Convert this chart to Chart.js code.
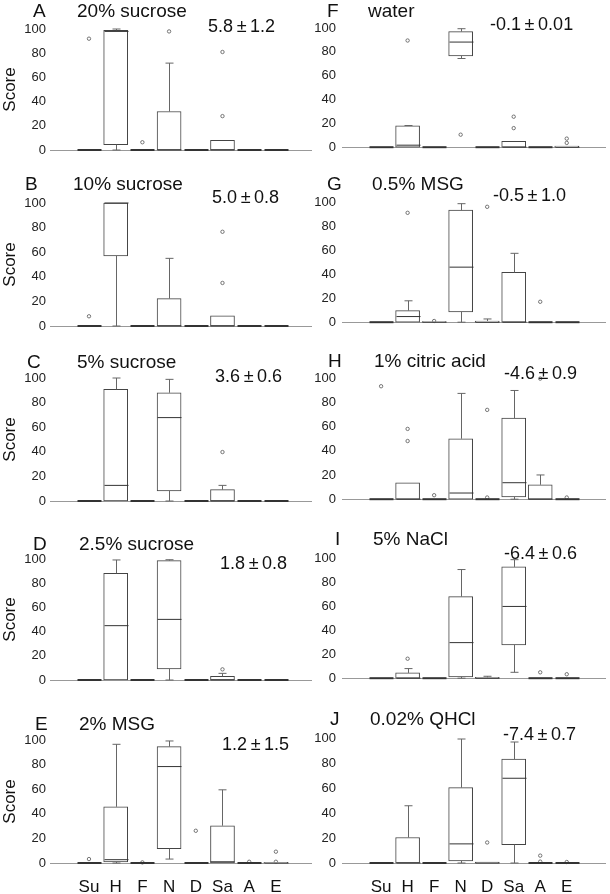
<!DOCTYPE html>
<html>
<head>
<meta charset="utf-8">
<script src="https://cdn.jsdelivr.net/npm/chart.js@4.4.1/dist/chart.umd.min.js"></script>
<style>
  body { margin: 0; background: #fff; width: 610px; height: 894px; position: relative; overflow: hidden; }
  canvas { position: absolute; }
</style>
</head>
<body>
<script>
// taste categories on the x axis
const categories = ['Su', 'H', 'F', 'N', 'D', 'Sa', 'A', 'E'];
const yTicks = [0, 20, 40, 60, 80, 100];

const letters = ['A', 'B', 'C', 'D', 'E', 'F', 'G', 'H', 'I', 'J'];
const names = ['20% sucrose', '10% sucrose', '5% sucrose', '2.5% sucrose', '2% MSG',
               'water', '0.5% MSG', '1% citric acid', '5% NaCl', '0.02% QHCl'];
const stats = ['5.8\u2009\u00b1\u20091.2', '5.0\u2009\u00b1\u20090.8', '3.6\u2009\u00b1\u20090.6', '1.8\u2009\u00b1\u20090.8', '1.2\u2009\u00b1\u20091.5',
               '-0.1\u2009\u00b1\u20090.01', '-0.5\u2009\u00b1\u20091.0', '-4.6\u2009\u00b1\u20090.9', '-6.4\u2009\u00b1\u20090.6', '-7.4\u2009\u00b1\u20090.7'];

// [min, q1, median, q3, max] for Su, H, F, N, D, Sa, A, E
const Z = [0, 0, 0, 0, 0];
const boxA = [Z, [0, 4.4, 98, 99, 100], Z, [0, 0, 0, 31.8, 71.8], Z, [0, 0, 0, 8, 8], Z, Z];
const boxB = [Z, [0, 57, 100, 100, 100], Z, [0, 0, 0, 22.3, 55], Z, [0, 0, 0, 8.2, 8.2], Z, Z];
const boxC = [Z, [0, 0, 12.7, 90.8, 100], Z, [0, 8.1, 67.8, 88, 98.9], Z, [0, 0, 0, 9.2, 12.7], Z, Z];
const boxD = [Z, [0, 0, 44.9, 88.2, 99.2], Z, [0, 9.1, 50.1, 98.6, 99.4], Z, [0, 0, 0, 3, 5.5], Z, Z];
const boxE = [Z, [0, 0.8, 2.7, 45.7, 96.5], Z, [3.2, 11.6, 78.4, 94.6, 99.2], Z, [0, 0, 1, 30.3, 59.5], Z, [0, 0, 0, 0.5, 0.5]];
const boxF = [Z, [0, 0, 1.7, 17.9, 18.2], Z, [74.4, 76.6, 88.2, 97, 99.4], Z, [0, 0, 0, 5, 5], Z, [0, 0, 0, 1, 1]];
const boxG = [Z, [0, 0, 4.7, 9.6, 17.8], [0, 0, 0, 0.5, 0.5], [0, 8.5, 45.8, 93.2, 98.6], [0, 0, 0, 1, 2.7], [0, 0, 0, 41.4, 57.3], Z, Z];
const boxH = [Z, [0, 0, 0, 13.6, 13.6], Z, [0, 0, 5.1, 49.9, 87.3], Z, [0, 1.9, 13.6, 66.9, 89.7], [0, 0, 0, 11.9, 20], Z];
const boxI = [Z, [0, 0, 0, 4.4, 8], Z, [0, 1.1, 29.6, 67.9, 90.4], [0, 0, 0, 0.8, 1.6], [4.9, 27.7, 59.7, 92.6, 98.6], Z, Z];
const boxJ = [Z, [0, 0, 0, 20.4, 45.8], Z, [0, 1.6, 15.3, 60.3, 99.2], [0, 0, 0, 0.8, 0.8], [0, 14.7, 67.8, 83.1, 96.8], Z, Z];

// outliers: [category index, score]
const outA = [[0, 92], [2, 6.4], [3, 98], [5, 81], [5, 28]];
const outB = [[0, 7.9], [5, 76.6], [5, 35]];
const outC = [[5, 39.8]];
const outD = [[5, 8.8]];
const outE = [[0, 3.2], [2, 0.5], [4, 26.2], [6, 1], [7, 9.2], [7, 1]];
const outF = [[1, 89.5], [3, 10.5], [5, 25.6], [5, 16], [7, 7.2], [7, 3.6]];
const outG = [[1, 91], [2, 1], [4, 96], [6, 17]];
const outH = [[0, 93.2], [1, 58], [1, 48], [2, 3.3], [4, 73.7], [4, 1.4], [6, 99.5], [7, 1.4]];
const outI = [[1, 16.2], [6, 4.9], [7, 3.3]];
const outJ = [[4, 16.4], [6, 5.9], [6, 1.1], [7, 0.8]];

const boxes = [boxA, boxB, boxC, boxD, boxE, boxF, boxG, boxH, boxI, boxJ];
const outliers = [outA, outB, outC, outD, outE, outF, outG, outH, outI, outJ];

// page layout (pixels)
const cols = [
  { left: 0, width: 316, axisW: 50, padR: 5, xmin: -1.46, xmax: 8.315 },
  { left: 300, width: 310, axisW: 42, padR: 2, xmin: -1.474, xmax: 8.45 }
];
const layout = [
  { y100: 29, y0: 150, letterX: 33, nameX: 77, titleY: 17, statX: 208, statY: 32 },
  { y100: 203, y0: 326, letterX: 25, nameX: 73, titleY: 190, statX: 212, statY: 203 },
  { y100: 378, y0: 501, letterX: 27, nameX: 77, titleY: 368, statX: 215, statY: 382 },
  { y100: 559, y0: 680, letterX: 33, nameX: 79, titleY: 550, statX: 220, statY: 569 },
  { y100: 740, y0: 863, letterX: 35, nameX: 79, titleY: 730, statX: 222, statY: 750 },
  { y100: 28, y0: 149, letterX: 327, nameX: 368, titleY: 17, statX: 490, statY: 30 },
  { y100: 202, y0: 324, letterX: 327, nameX: 372, titleY: 190, statX: 493, statY: 201 },
  { y100: 378, y0: 501, letterX: 328, nameX: 374, titleY: 367, statX: 504, statY: 379 },
  { y100: 558, y0: 680, letterX: 335, nameX: 373, titleY: 545, statX: 504, statY: 559 },
  { y100: 738, y0: 863, letterX: 330, nameX: 370, titleY: 725, statX: 503, statY: 740 }
];

const FONT = '"Liberation Sans", Arial, sans-serif';

// whiskers and median lines, drawn with the chart's own scales
const boxParts = {
  id: 'boxParts',
  afterDatasetsDraw(chart, args, opts) {
    const { ctx, scales: { x, y } } = chart;
    const half = 12, cap = 4;
    ctx.save();
    opts.summary.forEach((b, i) => {
      const cx = Math.round(x.getPixelForValue(i)) + 0.5;
      const p = b.map(v => y.getPixelForValue(v));
      ctx.strokeStyle = '#666';
      ctx.lineWidth = 1;
      ctx.beginPath();
      if (b[4] > b[3]) {
        ctx.moveTo(cx, p[3]); ctx.lineTo(cx, p[4]);
        ctx.moveTo(cx - cap, p[4]); ctx.lineTo(cx + cap, p[4]);
      }
      if (b[0] < b[1]) {
        ctx.moveTo(cx, p[1]); ctx.lineTo(cx, p[0]);
        ctx.moveTo(cx - cap, p[0]); ctx.lineTo(cx + cap, p[0]);
      }
      ctx.stroke();
      ctx.strokeStyle = '#333';
      ctx.lineWidth = b[3] === b[1] ? 2 : 1;
      ctx.beginPath();
      ctx.moveTo(cx - half, p[2]); ctx.lineTo(cx + half, p[2]);
      ctx.stroke();
    });
    ctx.restore();
  }
};

// panel letter, stimulus name and the mean score
const panelText = {
  id: 'panelText',
  afterDraw(chart, args, o) {
    const ctx = chart.ctx;
    ctx.save();
    ctx.fillStyle = '#111';
    ctx.textBaseline = 'alphabetic';
    ctx.font = '19px ' + FONT;
    ctx.fillText(o.letter, o.letterX, o.titleY);
    ctx.fillText(o.name, o.nameX, o.titleY);
    ctx.font = '18px ' + FONT;
    ctx.fillText(o.stat, o.statX, o.statY);
    ctx.restore();
  }
};

layout.forEach((p, k) => {
  const col = cols[k < 5 ? 0 : 1];
  const lastRow = k === 4 || k === 9;
  const xh = lastRow ? 31 : 2;
  const padB = lastRow ? 0 : 10;
  const top = p.y100 - 40;
  const cv = document.createElement('canvas');
  cv.width = col.width;
  cv.height = 40 + (p.y0 - p.y100) + xh + padB;
  cv.style.left = col.left + 'px';
  cv.style.top = top + 'px';
  document.body.appendChild(cv);

  new Chart(cv, {
    type: 'bar',
    data: {
      datasets: [
        {
          type: 'bar',
          data: boxes[k].map((b, i) => ({ x: i, y: [b[1], b[3]] })),
          backgroundColor: '#fff',
          borderColor: '#444',
          borderWidth: 1,
          borderSkipped: false,
          barThickness: 24,
          clip: false
        },
        {
          type: 'scatter',
          data: outliers[k].map(([i, v]) => ({ x: i, y: v })),
          pointRadius: 1.7,
          pointBorderWidth: 0.8,
          pointBorderColor: '#555',
          pointBackgroundColor: '#fff',
          clip: false
        }
      ]
    },
    options: {
      responsive: false,
      devicePixelRatio: 1,
      animation: false,
      events: [],
      layout: { padding: { top: 40, left: 0, right: col.padR, bottom: padB } },
      plugins: {
        legend: { display: false },
        tooltip: { enabled: false },
        boxParts: { summary: boxes[k] },
        panelText: {
          letter: letters[k], name: names[k], stat: stats[k],
          letterX: p.letterX - col.left, nameX: p.nameX - col.left, titleY: p.titleY - top,
          statX: p.statX - col.left, statY: p.statY - top
        }
      },
      scales: {
        x: {
          type: 'linear',
          offset: false,
          min: col.xmin,
          max: col.xmax,
          afterBuildTicks: s => { s.ticks = categories.map((c, i) => ({ value: i })); },
          afterFit: s => { s.height = xh; },
          grid: { display: false, drawTicks: false },
          border: { display: true, color: '#999', width: 1 },
          ticks: {
            display: lastRow,
            autoSkip: false,
            maxRotation: 0,
            padding: 14,
            color: '#111',
            font: { family: FONT, size: 17 },
            callback: v => categories[v]
          }
        },
        y: {
          min: 0,
          max: 100,
          afterBuildTicks: s => { s.ticks = yTicks.map(v => ({ value: v })); },
          afterFit: s => { s.width = col.axisW; },
          grid: { display: false, drawTicks: false },
          border: { display: false },
          ticks: { padding: k < 5 ? 4 : 6, color: '#222', font: { family: FONT, size: 13 } },
          title: {
            display: k < 5,
            text: 'Score',
            color: '#111',
            padding: 0,
            font: { family: FONT, size: 17 }
          }
        }
      }
    },
    plugins: [boxParts, panelText]
  });
});
</script>
</body>
</html>
